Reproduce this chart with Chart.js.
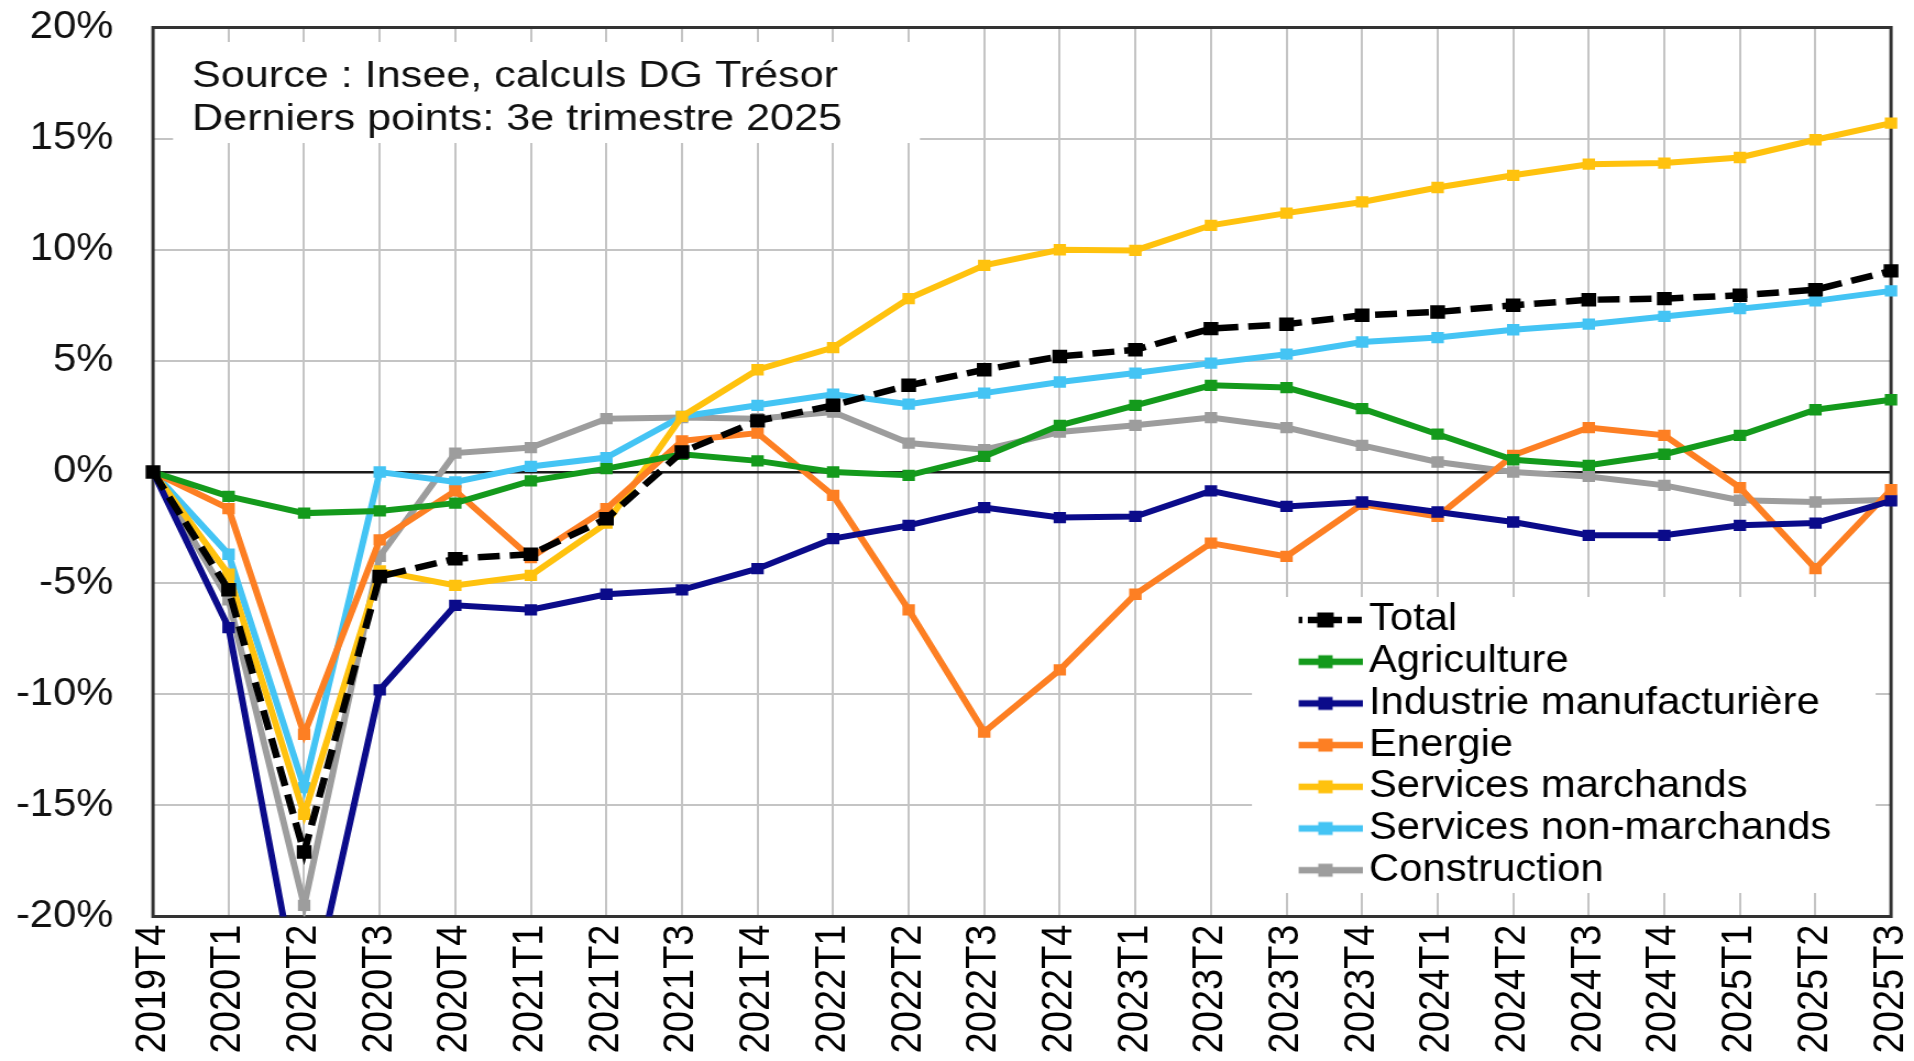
<!DOCTYPE html>
<html>
<head>
<meta charset="utf-8">
<script src="https://cdn.jsdelivr.net/npm/chart.js@4.4.1/dist/chart.umd.min.js"></script>
<style>
html,body{margin:0;padding:0;background:#fff;overflow:hidden;width:1914px;height:1061px;}
#wrap{position:absolute;left:0;top:0;width:1740px;height:1061px;transform:scaleX(1.1);transform-origin:0 0;}
canvas{display:block;}
</style>
</head>
<body>
<div id="wrap"><canvas id="c" width="1740" height="1061" style="width:1740px;height:1061px"></canvas></div>
<script>
// ---- data ----
const categories = ['2019T4','2020T1','2020T2','2020T3','2020T4','2021T1','2021T2','2021T3','2021T4',
  '2022T1','2022T2','2022T3','2022T4','2023T1','2023T2','2023T3','2023T4',
  '2024T1','2024T2','2024T3','2024T4','2025T1','2025T2','2025T3'];
const total        = [0, -5.3, -17.1, -4.7, -3.9, -3.7, -2.1, 0.9, 2.3, 3.0, 3.9, 4.6, 5.2, 5.5, 6.45, 6.65, 7.05, 7.2, 7.5, 7.75, 7.8, 7.95, 8.2, 9.05];
const agriculture  = [0, -1.1, -1.85, -1.75, -1.4, -0.4, 0.15, 0.8, 0.5, 0.0, -0.15, 0.7, 2.1, 3.0, 3.9, 3.8, 2.85, 1.7, 0.55, 0.3, 0.8, 1.65, 2.8, 3.25];
const industrie    = [0, -7.0, -25, -9.8, -6.0, -6.2, -5.5, -5.3, -4.35, -3.0, -2.4, -1.6, -2.05, -2.0, -0.85, -1.55, -1.35, -1.8, -2.25, -2.85, -2.85, -2.4, -2.3, -1.3];
const energie      = [0, -1.65, -11.8, -3.05, -0.85, -3.85, -1.65, 1.4, 1.75, -1.05, -6.2, -11.7, -8.9, -5.5, -3.2, -3.8, -1.45, -2.0, 0.75, 2.0, 1.65, -0.7, -4.35, -0.8];
const servMarchands    = [0, -4.6, -15.4, -4.45, -5.1, -4.65, -2.3, 2.5, 4.6, 5.6, 7.8, 9.3, 10.0, 9.97, 11.1, 11.65, 12.15, 12.8, 13.35, 13.85, 13.9, 14.15, 14.95, 15.7];
const servNonMarchands = [0, -3.7, -14.2, 0.0, -0.45, 0.25, 0.65, 2.5, 3.0, 3.5, 3.05, 3.55, 4.05, 4.45, 4.9, 5.3, 5.85, 6.05, 6.4, 6.65, 7.0, 7.35, 7.7, 8.15];
const construction = [0, -5.75, -19.5, -3.8, 0.85, 1.1, 2.4, 2.45, 2.4, 2.7, 1.3, 1.0, 1.8, 2.1, 2.45, 2.0, 1.2, 0.45, 0.0, -0.2, -0.6, -1.27, -1.35, -1.25];
const seriesNames  = ['Total','Agriculture','Industrie manufacturière','Energie','Services marchands','Services non-marchands','Construction'];
const seriesValues = [total, agriculture, industrie, energie, servMarchands, servNonMarchands, construction];
const sourceLines  = ['Source : Insee, calculs DG Trésor', 'Derniers points: 3e trimestre 2025'];

// ---- styles ----
const FONT = "'Liberation Sans', Arial, Helvetica, sans-serif";
const seriesColors = ['#000000','#149a1c','#0b0b8a','#fd7f23','#ffc20e','#44c4f4','#9d9d9d'];

function makeSample(color, dashed) {
  const c = document.createElement('canvas');
  c.width = 68; c.height = 20;
  const g = c.getContext('2d');
  g.strokeStyle = color; g.lineWidth = 6.5;
  if (dashed) g.setLineDash([13, 5]);
  g.beginPath(); g.moveTo(0, 10); g.lineTo(68, 10); g.stroke();
  g.fillStyle = color;
  const s = dashed ? 15 : 13;
  g.fillRect(34 - s / 2, 10 - s / 2, s, s);
  return c;
}
const samples = seriesColors.map((c, i) => makeSample(c, i === 0));

const datasets = seriesNames.map((name, i) => ({
  label: name,
  data: seriesValues[i],
  borderColor: seriesColors[i],
  backgroundColor: seriesColors[i],
  borderWidth: i === 0 ? 6.5 : 6,
  borderDash: i === 0 ? [20, 9] : [],
  pointStyle: 'rect',
  pointRadius: i === 0 ? 9.5 : 8,
  pointBorderWidth: 0,
  pointBackgroundColor: seriesColors[i],
  pointBorderColor: seriesColors[i],
  clip: {left: 15, right: 15, top: 15, bottom: 0},
  tension: 0
}));

const decor = {
  id: 'decor',
  afterInit(chart) {
    const lg = chart.legend;
    if (lg) lg._layers = () => [{ z: 1, draw: (area) => lg.draw(area) }];
  },
  afterLayout(chart) {
    const lg = chart.legend, ca = chart.chartArea;
    if (!lg) return;
    const left = ca.right - 538.5, top = ca.bottom - 319.2;
    lg.left = left; lg.top = top; lg.width = 530; lg.height = 318;
    lg.right = left + lg.width; lg.bottom = top + lg.height;
  },
  beforeDatasetsDraw(chart) {
    const ctx = chart.ctx, ca = chart.chartArea;
    ctx.save();
    ctx.fillStyle = '#ffffff';
    ctx.fillRect(ca.left + 18.2, ca.top + 14.5, 679, 101);
    ctx.fillRect(ca.right - 581, ca.bottom - 319.5, 567, 296);
    ctx.strokeStyle = '#333333'; ctx.lineWidth = 3;
    ctx.strokeRect(ca.left, ca.top, ca.right - ca.left, ca.bottom - ca.top);
    ctx.fillStyle = '#111111';
    ctx.font = '36px ' + FONT;
    ctx.textBaseline = 'alphabetic'; ctx.textAlign = 'left';
    sourceLines.forEach((t, i) => {
      ctx.save();
      ctx.translate(ca.left + 35.4, ca.top + 59.2 + i * 43.3);
      ctx.scale(1.09, 1);
      ctx.fillText(t, 0, 0);
      ctx.restore();
    });
    ctx.restore();
  }
};

new Chart(document.getElementById('c'), {
  type: 'line',
  data: { labels: categories, datasets },
  options: {
    responsive: false, maintainAspectRatio: false, animation: false, devicePixelRatio: 1,
    layout: { padding: { left: 0, right: 20.9, top: 27.5, bottom: 0 } },
    scales: {
      x: {
        type: 'category', offset: false,
        grid: { color: '#c4c4c4', lineWidth: 2, drawTicks: false, offset: false },
        border: { display: false },
        ticks: { autoSkip: false, minRotation: 90, maxRotation: 90, padding: 8, color: '#000',
                 font: { family: FONT, size: 38 } },
        afterFit: (s) => { s.height = 144.5; s.paddingLeft = 0; s.paddingRight = 0; }
      },
      y: {
        min: -20, max: 20,
        grid: {
          drawTicks: false,
          color: (c) => (c.tick && c.tick.value === 0) ? '#1a1a1a' : '#c4c4c4',
          lineWidth: (c) => (c.tick && c.tick.value === 0) ? 2.5 : 2
        },
        border: { display: false },
        ticks: { stepSize: 5, padding: 36, color: '#111', font: { family: FONT, size: 38 },
                 callback: (v) => v + '%' },
        afterFit: (s) => { s.width = 139.1; s.paddingTop = 0; s.paddingBottom = 0; }
      }
    },
    plugins: {
      tooltip: { enabled: false },
      legend: {
        position: 'chartArea', align: 'start',
        labels: {
          usePointStyle: true, pointStyleWidth: 41.2, boxHeight: 16, padding: 3.7,
          textAlign: 'left', color: '#000', font: { family: FONT, size: 38 },
          generateLabels: (chart) => chart.data.datasets.map((ds, i) => ({
            text: ds.label, pointStyle: samples[i], fillStyle: ds.borderColor,
            strokeStyle: ds.borderColor, lineWidth: 0, hidden: false, datasetIndex: i, fontColor: '#000'
          }))
        }
      }
    }
  },
  plugins: [decor]
});
</script>
</body>
</html>
